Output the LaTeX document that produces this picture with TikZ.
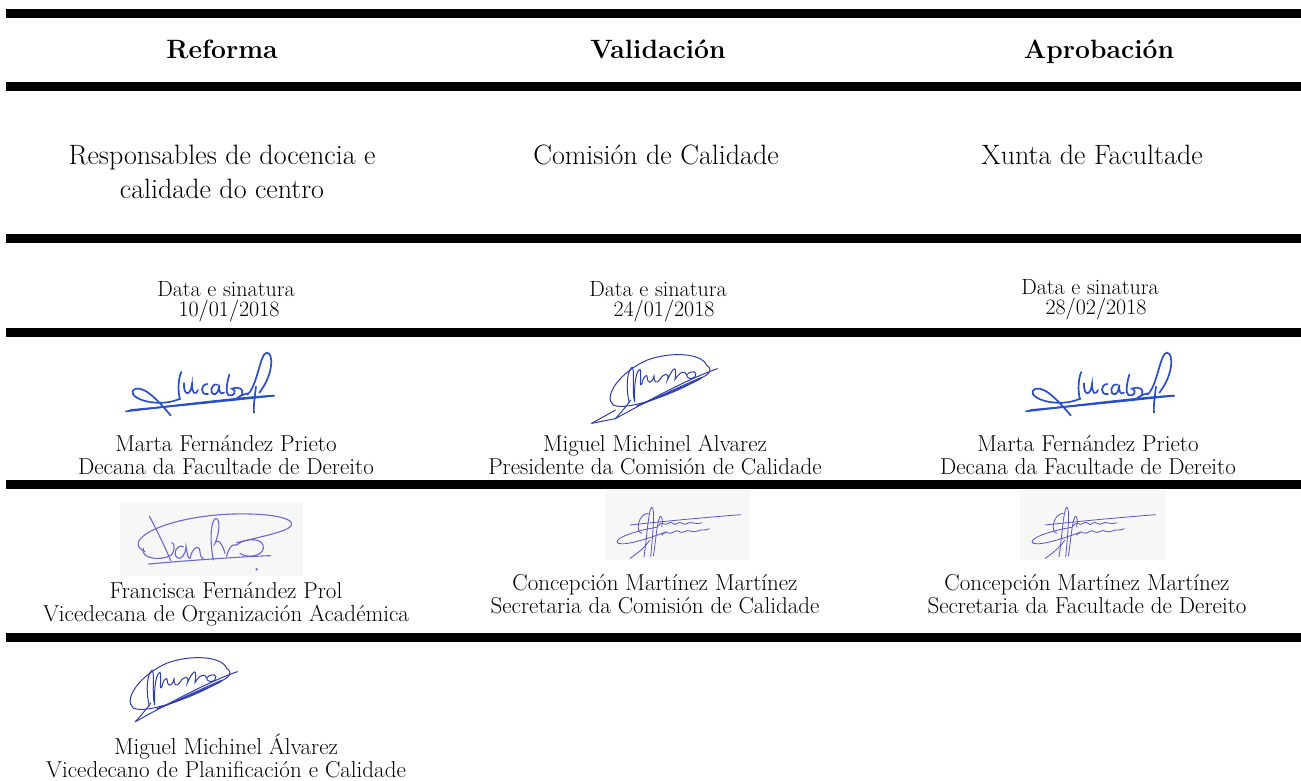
\documentclass[tikz,border=0pt]{standalone}
\usepackage{tikz}
\definecolor{sigblue}{RGB}{40,78,205}
\definecolor{sigdark}{RGB}{45,60,175}
\definecolor{siglav}{RGB}{105,105,215}
\definecolor{sigvio}{RGB}{85,85,200}
\newcommand\sigMarta{%
 \draw[sigM] (78,214) .. controls (200,200) and (420,172) .. (522,167);
 \draw[sigM] (522,167) .. controls (420,178) and (250,196) .. (92,210);
 \draw[sigM] (212,226) .. controls (185,195) and (140,140) .. (108,146) .. controls (88,152) and (95,172) .. (135,183) .. controls (175,193) and (215,188) .. (240,176);
 \draw[sigM] (244,96) .. controls (236,110) and (232,150) .. (240,178);
 \draw[sigM] (252,130) .. controls (250,168) and (272,170) .. (276,132) .. controls (276,160) and (285,168) .. (294,150);
 \draw[sigM] (322,132) .. controls (302,132) and (298,166) .. (324,162);
 \draw[sigM] (352,134) .. controls (332,128) and (326,166) .. (346,162) .. controls (356,158) and (356,142) .. (358,134) .. controls (356,152) and (360,166) .. (372,158);
 \draw[sigM] (388,104) .. controls (380,130) and (376,160) .. (386,166) .. controls (402,172) and (412,150) .. (396,146) .. controls (420,138) and (432,148) .. (426,164) .. controls (414,178) and (404,172) .. (442,160);
 \draw[sigM] (442,164) .. controls (472,140) and (480,40) .. (500,38) .. controls (522,38) and (520,105) .. (478,158);
 \draw[sigM] (468,140) .. controls (464,170) and (460,200) .. (462,218);
}
\newcommand\sigMiguel{%
 \draw[sigG] (440,76) .. controls (425,38) and (330,35) .. (262,60) .. controls (180,95) and (128,170) .. (160,195) .. controls (200,215) and (350,160) .. (438,106) .. controls (455,96) and (452,82) .. (440,76);
 \draw[sigG] (166,236) .. controls (250,190) and (380,118) .. (472,86);
 \draw[sigG] (166,236) .. controls (185,215) and (198,200) .. (212,180);
 \draw[sigG] (230,198) .. controls (300,170) and (380,130) .. (425,112);
 \draw[sigG] (236,196) .. controls (300,172) and (370,138) .. (420,118);
 \draw[sigG] (208,188) .. controls (196,140) and (202,92) .. (216,82) .. controls (226,92) and (214,150) .. (224,186) .. controls (222,130) and (228,92) .. (240,88) .. controls (246,100) and (236,150) .. (246,130);
 \draw[sigG] (246,130) .. controls (250,108) and (262,100) .. (262,112) .. controls (262,132) and (276,132) .. (282,108) .. controls (282,128) and (290,132) .. (300,118);
 \draw[sigG] (300,118) .. controls (310,100) and (330,95) .. (322,120) .. controls (340,80) and (352,72) .. (345,118) .. controls (360,95) and (375,90) .. (380,105) .. controls (395,88) and (415,95) .. (405,110) .. controls (395,120) and (380,115) .. (380,105);
}
\newcommand\sigFran{%
 \fill[black!3] (60,36) rectangle (609,258);
 \draw[sigF] (148,78) .. controls (170,120) and (195,170) .. (212,212);
 \draw[sigF] (135,185) .. controls (60,150) and (200,78) .. (400,72) .. controls (560,68) and (620,100) .. (540,125) .. controls (500,138) and (440,150) .. (410,158);
 \draw[sigF] (130,175) .. controls (120,205) and (180,215) .. (215,195) .. controls (225,180) and (225,160) .. (215,158);
 \draw[sigF] (250,170) .. controls (225,160) and (215,205) .. (240,205) .. controls (255,200) and (258,175) .. (258,168) .. controls (262,190) and (262,205) .. (270,205);
 \draw[sigF] (270,205) .. controls (275,180) and (290,165) .. (298,175) .. controls (302,190) and (300,205) .. (310,205);
 \draw[sigF] (340,210) .. controls (330,160) and (330,90) .. (348,85) .. controls (362,88) and (358,130) .. (345,160) .. controls (355,140) and (370,170) .. (375,190);
 \draw[sigF] (380,200) .. controls (385,175) and (395,160) .. (410,165) .. controls (440,140) and (495,145) .. (490,175) .. controls (485,200) and (440,205) .. (420,190);
 \draw[sigF] (145,222) .. controls (260,212) and (420,200) .. (512,197);
 \fill[siglav] (470,238) circle[radius=4];
}
\newcommand\sigConcha{%
 \fill[black!3] (255,0) rectangle (690,210);
 \draw[sigC] (330,105) .. controls (450,92) and (560,82) .. (662,74);
 \draw[sigC] (410,112) .. controls (330,125) and (275,150) .. (295,160) .. controls (320,168) and (400,140) .. (440,125);
 \draw[sigC] (385,70) .. controls (355,70) and (345,125) .. (365,130);
 \draw[sigC] (372,200) .. controls (380,150) and (385,60) .. (395,52) .. controls (405,50) and (400,120) .. (392,200);
 \draw[sigC] (400,198) .. controls (408,150) and (410,100) .. (420,80) .. controls (425,75) and (430,90) .. (425,110);
 \draw[sigC] (330,205) .. controls (360,185) and (375,170) .. (390,150);
 \draw[sigC] (415,108) .. controls (425,90) and (435,110) .. (445,100) .. controls (455,88) and (462,112) .. (472,100) .. controls (482,90) and (492,110) .. (502,100) .. controls (512,92) and (525,106) .. (545,98);
 \draw[sigC] (425,135) .. controls (440,118) and (450,138) .. (462,125) .. controls (472,115) and (482,135) .. (495,124) .. controls (505,116) and (520,132) .. (535,122) .. controls (545,116) and (555,124) .. (568,116);
}
\begin{document}
\begin{tikzpicture}[x=1pt,y=-1pt,
  rulebar/.style={line width=9pt},
  hdr/.style={font=\fontsize{26.5}{30}\selectfont\bfseries, inner sep=0pt, anchor=base},
  big/.style={font=\fontsize{28}{34}\selectfont, align=center, inner sep=0pt},
  dat/.style={font=\fontsize{22}{24}\selectfont, inner sep=0pt, anchor=base},
  nm/.style={font=\fontsize{23}{23}\selectfont, align=center, inner sep=0pt},
  sigM/.style={draw=sigblue, line width=1.7pt, line cap=round},
  sigG/.style={draw=sigdark, line width=1.0pt, line cap=round},
  sigF/.style={draw=siglav, line width=1.1pt, line cap=round},
  sigC/.style={draw=sigvio, line width=0.8pt, line cap=round}]
\useasboundingbox (0,0) rectangle (1301,780);
% rules
\coordinate (a1) at (6,13.5);  \coordinate (b1) at (1301,13.5);
\coordinate (a2) at (6,86.5);  \coordinate (b2) at (1301,86.5);
\coordinate (a3) at (6,238.5); \coordinate (b3) at (1301,238.5);
\coordinate (a4) at (6,332);   \coordinate (b4) at (1301,332);
\coordinate (a5) at (6,484.5); \coordinate (b5) at (1301,484.5);
\coordinate (a6) at (6,637.5); \coordinate (b6) at (1301,637.5);
\foreach \i in {1,...,6} {\draw[rulebar] (a\i) -- (b\i);}
% headers
\node[hdr] (h1) at (222,58) {Reforma};
\node[hdr] (h2) at (658,58) {Validación};
\node[hdr] (h3) at (1099,58) {Aprobación};
% row 2
\node[big] (r1) at (222,172) {Responsables de docencia e\\calidade do centro};
\node[big] (r2) at (656,155) {Comisión de Calidade};
\node[big] (r3) at (1092,155) {Xunta de Facultade};
% dates
\node[dat] (d1) at (226,296) {Data e sinatura};
\node[dat] (e1) at (229,316.5) {10/01/2018};
\node[dat] (d2) at (658,296) {Data e sinatura};
\node[dat] (e2) at (664,316.5) {24/01/2018};
\node[dat] (d3) at (1090,294) {Data e sinatura};
\node[dat] (e3) at (1096,314) {28/02/2018};
% signatures row 4
\begin{scope}[shift={(100,340)},scale=1/3] \sigMarta \end{scope}
\begin{scope}[shift={(560,340)},scale=1/3]
  \sigMiguel
  \draw[sigG] (166,236) -- (95,250);
  \draw[sigG] (95,250) .. controls (130,230) and (150,220) .. (166,210);
\end{scope}
\begin{scope}[shift={(1000,340)},scale=1/3] \sigMarta \end{scope}
\node[nm] (n1) at (226,455) {Marta Fernández Prieto\\Decana da Facultade de Dereito};
\node[nm] (n2) at (655,455) {Miguel Michinel Alvarez\\Presidente da Comisión de Calidade};
\node[nm] (n3) at (1088,455) {Marta Fernández Prieto\\Decana da Facultade de Dereito};
% row 5
\begin{scope}[shift={(100,490)},scale=1/3] \sigFran \end{scope}
\begin{scope}[shift={(520,490)},scale=1/3] \sigConcha \end{scope}
\begin{scope}[shift={(935,490)},scale=1/3] \sigConcha \end{scope}
\node[nm] (n4) at (226,604) {Francisca Fernández Prol\\Vicedecana de Organización Académica};
\node[nm] (n5) at (655,594) {Concepción Martínez Martínez\\Secretaria da Comisión de Calidade};
\node[nm] (n6) at (1087,594) {Concepción Martínez Martínez\\Secretaria da Facultade de Dereito};
% row 6
\begin{scope}[shift={(80,643)},scale=1/3] \sigMiguel \end{scope}
\node[nm] (n7) at (226,756) {Miguel Michinel Álvarez\\Vicedecano de Planificación e Calidade};
\end{tikzpicture}
\end{document}
